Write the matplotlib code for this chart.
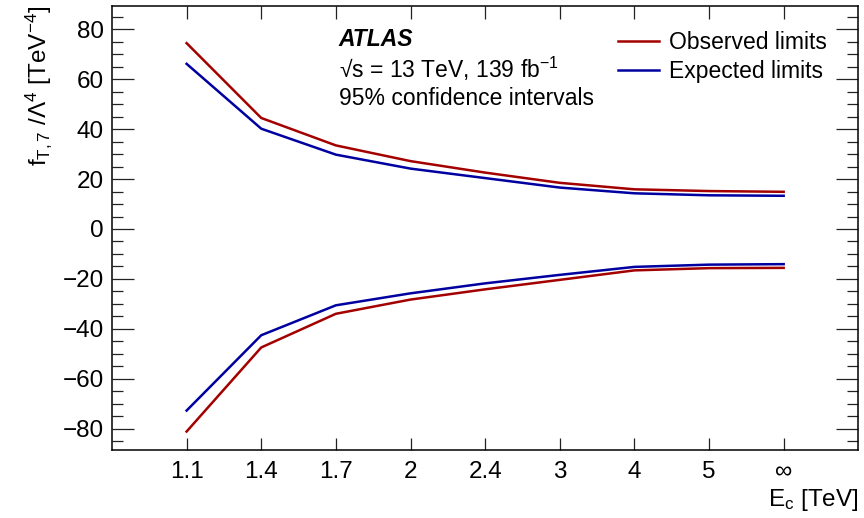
import matplotlib
matplotlib.use("Agg")
import matplotlib.pyplot as plt
from matplotlib.ticker import MultipleLocator

# ─── Data ─────────────────────────────────────────────────────────────────────
cutoffs    = ["1.1", "1.4", "1.7", "2", "2.4", "3", "4", "5", "∞"]
obs_upper  = [74.5, 44.5, 33.5, 27.2, 22.6, 18.5, 15.9, 15.2, 14.9]
exp_upper  = [66.2, 40.2, 29.8, 24.2, 20.4, 16.6, 14.3, 13.5, 13.3]
obs_lower  = [-81.2, -47.5, -34.0, -28.3, -24.2, -20.4, -16.6, -15.7, -15.6]
exp_lower  = [-72.8, -42.6, -30.6, -25.8, -21.8, -18.4, -15.2, -14.3, -14.1]

RED, BLUE = "#a30000", "#0000a0"

plt.rcParams["font.family"] = ["Liberation Sans", "DejaVu Sans"]
plt.rcParams["mathtext.fontset"] = "custom"
plt.rcParams["mathtext.rm"] = "Liberation Sans"
plt.rcParams["mathtext.it"] = "Liberation Sans"
plt.rcParams["mathtext.default"] = "regular"

fig = plt.figure(figsize=(8.64, 5.18), dpi=100)
ax = fig.add_axes([0.1296, 0.1313, 0.8638, 0.8567])

xs = range(len(cutoffs))
ax.plot(xs, obs_upper, color=RED, lw=1.8, label="Observed limits")
ax.plot(xs, exp_upper, color=BLUE, lw=1.8, label="Expected limits")
ax.plot(xs, obs_lower, color=RED, lw=1.8)
ax.plot(xs, exp_lower, color=BLUE, lw=1.8)

ax.set_xlim(-1, len(cutoffs))
ax.set_ylim(-88.6, 89.3)

# ─── Axes / ticks (ROOT style) ────────────────────────────────────────────────
ax.set_xticks(list(xs))
ax.set_xticklabels(cutoffs)
ax.yaxis.set_major_locator(MultipleLocator(20))
ax.yaxis.set_minor_locator(MultipleLocator(5))
ax.tick_params(axis="both", which="both", direction="in",
               top=True, right=True, labelsize=17.5, width=0.9, color="#222222")
ax.tick_params(axis="y", which="major", length=16, pad=6)
ax.tick_params(axis="y", which="minor", length=8)
ax.tick_params(axis="x", which="major", length=9, pad=8)
for sp in ax.spines.values():
    sp.set_linewidth(1.1)

ax.set_yticklabels([f"{v:.0f}".replace("-", "\u2212") for v in ax.get_yticks()])

ax.set_ylabel(r"$f_{T,7}$ /$\Lambda^{4}$ [TeV$^{-4}$]", fontsize=17.5,
              loc="top", labelpad=6)
ax.set_xlabel(r"E$_{c}$ [TeV]", fontsize=17.5, loc="right", labelpad=3)

# ─── Annotations ──────────────────────────────────────────────────────────────
ax.text(0.304, 0.926, "ATLAS", transform=ax.transAxes, fontsize=16.5,
        fontweight="bold", fontstyle="italic", va="center")
ax.text(0.304, 0.858, r"√s = 13 TeV, 139 fb$^{-1}$", transform=ax.transAxes,
        fontsize=16.5, va="center")
ax.text(0.304, 0.791, "95% confidence intervals", transform=ax.transAxes,
        fontsize=16.5, va="center")

ax.legend(loc="upper right", bbox_to_anchor=(0.985, 0.99), frameon=False,
          fontsize=16.5, handlelength=1.8, handletextpad=0.4, labelspacing=0.25)

fig.savefig("out.png", dpi=100)
